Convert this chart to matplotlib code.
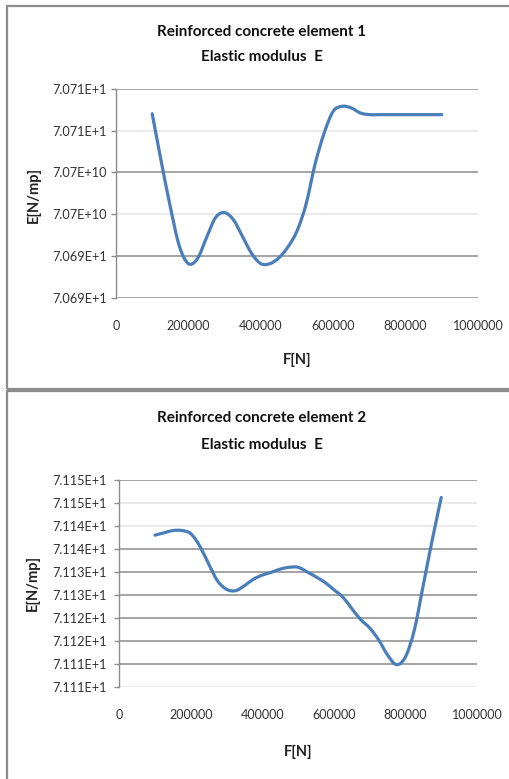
import numpy as np
import matplotlib
matplotlib.use("Agg")
import matplotlib.pyplot as plt
from matplotlib.path import Path
from matplotlib.patches import PathPatch, Rectangle

# ---- data -----------------------------------------------------------------
force = [100000, 125000, 150000, 175000, 200000, 225000, 250000, 275000,
         300000, 325000, 350000, 375000, 400000, 425000, 450000, 475000,
         500000, 525000, 550000, 575000, 600000, 625000, 650000, 675000,
         700000, 725000, 750000, 775000, 800000, 825000, 850000, 875000,
         900000]

# Elastic modulus, in units of 1e10 N/mp
modulus_el1 = [7.07070, 7.07013, 7.06959, 7.06912, 7.06891, 7.06897, 7.06922,
               7.06946, 7.06952, 7.06943, 7.06923, 7.06903, 7.06891, 7.06891,
               7.06898, 7.06911, 7.06930, 7.06962, 7.07010, 7.07047, 7.07073,
               7.07079, 7.07077, 7.07071, 7.07069, 7.07069, 7.07069, 7.07069,
               7.07069, 7.07069, 7.07069, 7.07069, 7.07069]

modulus_el2 = [7.11380, 7.11385, 7.11390, 7.11390, 7.11383, 7.11356, 7.11317,
               7.11280, 7.11262, 7.11259, 7.11270, 7.11284, 7.11293, 7.11299,
               7.11306, 7.11310, 7.11310, 7.11300, 7.11289, 7.11277, 7.11261,
               7.11245, 7.11220, 7.11196, 7.11178, 7.11152, 7.11119, 7.11098,
               7.11115, 7.11174, 7.11272, 7.11370, 7.11462]

yticks_el1 = [7.0710, 7.0705, 7.0700, 7.0695, 7.0690, 7.0685]
ylabels_el1 = ["7.071E+1", "7.071E+1", "7.07E+10", "7.07E+10", "7.069E+1", "7.069E+1"]

yticks_el2 = [7.1150, 7.1145, 7.1140, 7.1135, 7.1130, 7.1125, 7.1120, 7.1115,
              7.1110, 7.1105]
ylabels_el2 = ["7.115E+1", "7.115E+1", "7.114E+1", "7.114E+1", "7.113E+1",
               "7.113E+1", "7.112E+1", "7.112E+1", "7.111E+1", "7.111E+1"]

xticks = [0, 200000, 400000, 600000, 800000, 1000000]
xlabels = ["0", "200000", "400000", "600000", "800000", "1000000"]

titles_el1 = ["Reinforced concrete element 1", "Elastic modulus  E"]
titles_el2 = ["Reinforced concrete element 2", "Elastic modulus  E"]
x_title = "F[N]"
y_title = "E[N/mp]"

# ---- styling ----------------------------------------------------------------
W, H = 510, 779
LINE_BLUE = "#4a7ebb"
DARK_GRID = "#8c8c8c"
LIGHT_GRID = "#e4e4e4"
FONT = ["Lato", "DejaVu Sans"]

plt.rcParams["font.family"] = FONT

fig = plt.figure(figsize=(W / 100, H / 100), dpi=100)
fig.patch.set_facecolor("white")


def fx(px):
    return px / W


def fy(py):
    return 1 - py / H


def smooth_path(xs, ys):
    """Catmull-Rom curve through the points, expressed as cubic Bezier segments."""
    p = np.column_stack([xs, ys]).astype(float)
    ext = np.vstack([p[0], p, p[-1]])
    verts = [tuple(p[0])]
    codes = [Path.MOVETO]
    for i in range(1, len(ext) - 2):
        p0, p1, p2, p3 = ext[i - 1], ext[i], ext[i + 1], ext[i + 2]
        c1 = p1 + (p2 - p0) / 6.0
        c2 = p2 - (p3 - p1) / 6.0
        verts += [tuple(c1), tuple(c2), tuple(p2)]
        codes += [Path.CURVE4] * 3
    return Path(verts, codes)


def panel(box, ylim, yticks, ylabels, grid_styles, values, titles, title_ys,
          ylab_xy, xtick_y, xlab_xy, ylab_left):
    left, top, right, bottom = box
    ax = fig.add_axes([fx(left), fy(bottom), fx(right - left), (bottom - top) / H])
    ax.set_xlim(0, 1000000)
    ax.set_ylim(*ylim)
    ax.set_facecolor("white")
    for s in ["top", "right", "bottom"]:
        ax.spines[s].set_visible(False)
    ax.spines["left"].set_color(DARK_GRID)
    ax.spines["left"].set_linewidth(1.0)

    for val, col in zip(yticks, grid_styles):
        ax.axhline(val, color=col, lw=1.1, zorder=1)

    ax.set_yticks(yticks)
    ax.set_yticklabels(ylabels)
    ticklen_pt = 3.6
    pad_pt = (left - ylab_left) * 0.72 - ticklen_pt
    ax.tick_params(axis="y", length=ticklen_pt, width=1.0, color=DARK_GRID,
                   pad=pad_pt, labelsize=9.2, labelcolor="#333333")
    for lab in ax.get_yticklabels():
        lab.set_horizontalalignment("left")

    ax.set_xticks(xticks)
    ax.set_xticklabels(xlabels)
    xpad = (xtick_y - bottom) * 0.72 - 4.3
    ax.tick_params(axis="x", length=0, pad=xpad, labelsize=9.0,
                   labelcolor="#333333")

    patch = PathPatch(smooth_path(force, values), fill=False, edgecolor=LINE_BLUE,
                      lw=2.3, capstyle="round", joinstyle="round", zorder=3)
    ax.add_patch(patch)

    for line, ty in zip(titles, title_ys):
        fig.text(fx(262), fy(ty), line, ha="center", va="center",
                 fontsize=11.0, fontweight="bold", color="#111111")
    fig.text(fx(ylab_xy[0]), fy(ylab_xy[1]), y_title, rotation=90,
             ha="center", va="center", fontsize=10.5, fontweight="bold",
             color="#222222")
    fig.text(fx(xlab_xy[0]), fy(xlab_xy[1]), x_title, ha="center", va="center",
             fontsize=10.5, fontweight="bold", color="#222222")
    return ax


panel((116, 88.7, 478, 298), (7.0685, 7.0710), yticks_el1, ylabels_el1,
      [DARK_GRID, LIGHT_GRID, DARK_GRID, LIGHT_GRID, DARK_GRID, DARK_GRID],
      modulus_el1, titles_el1, (32.3, 57.3), (34, 195), 325.5, (297, 360), 52)

panel((119.3, 480, 477, 686.7), (7.1105, 7.1150), yticks_el2, ylabels_el2,
      [DARK_GRID, LIGHT_GRID, LIGHT_GRID, DARK_GRID, DARK_GRID, DARK_GRID,
       DARK_GRID, DARK_GRID, DARK_GRID, LIGHT_GRID],
      modulus_el2, titles_el2, (418.3, 445.3), (33, 583), 715, (298, 752), 52)

# chart frames
for (x0, y0, x1, y1) in [(7.5, 6, 530, 388.5), (7, 390.5, 530, 800)]:
    fig.patches.append(Rectangle((fx(x0), fy(y1)), fx(x1 - x0), (y1 - y0) / H,
                                 transform=fig.transFigure, fill=False,
                                 edgecolor=DARK_GRID, lw=1.6, zorder=5))

fig.savefig("out.png", dpi=100, facecolor="white")
